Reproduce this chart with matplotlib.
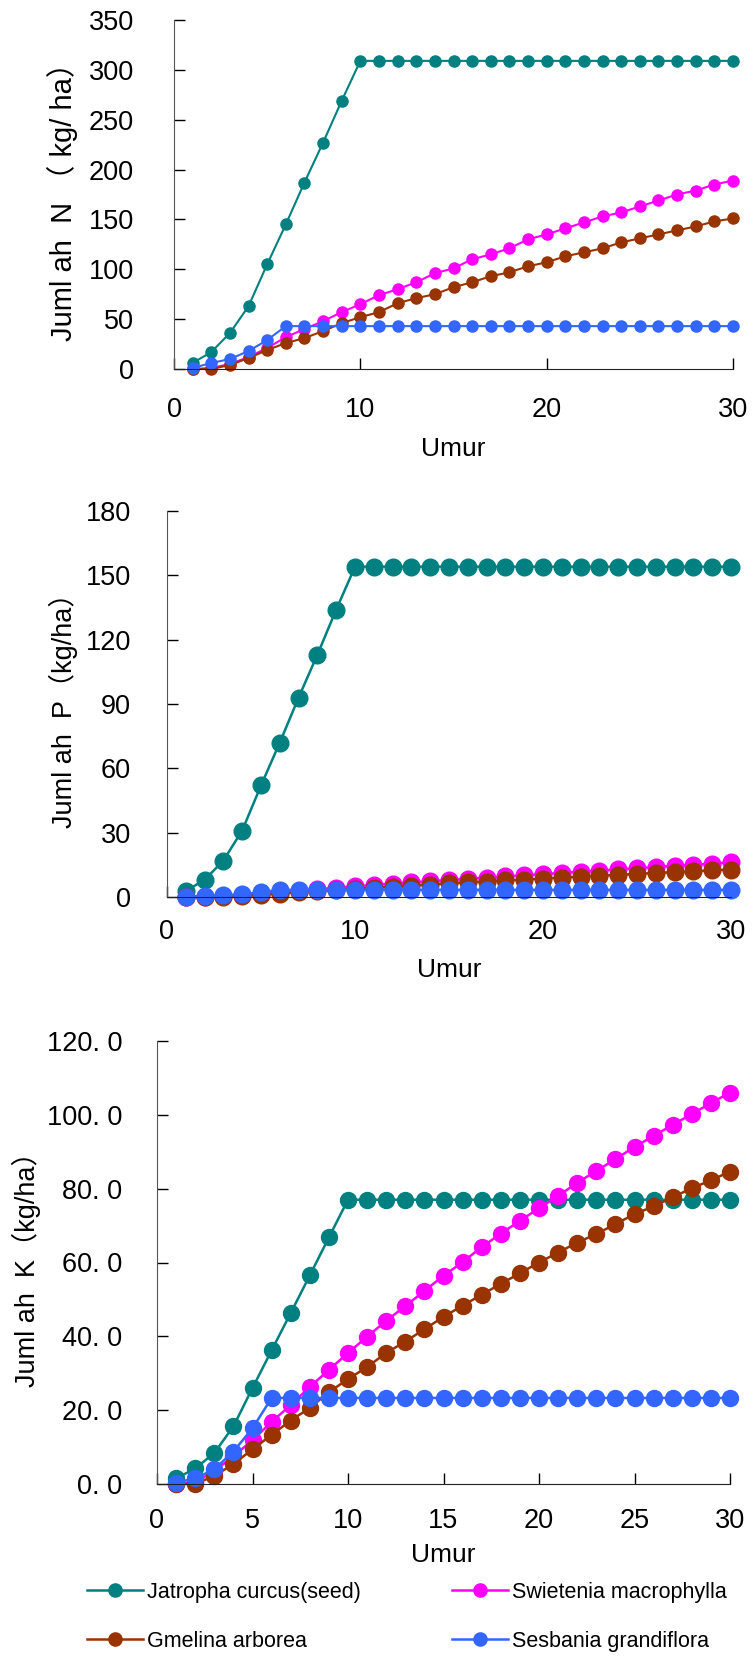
import matplotlib
matplotlib.use("Agg")
import matplotlib.pyplot as plt
from matplotlib.lines import Line2D
from matplotlib.ticker import FuncFormatter

plt.rcParams['font.family'] = ['Liberation Sans', 'Noto Sans CJK JP', 'DejaVu Sans']

# data (umur 1..30)
umur = list(range(1, 31))
species = ["Jatropha curcus(seed)", "Swietenia macrophylla", "Gmelina arborea", "Sesbania grandiflora"]
colors = ["#008080", "#FF00FF", "#993300", "#3366FF"]

n_jatropha = [6, 17, 36, 63, 105, 145, 187, 227, 269, 309] + [309] * 20
n_swietenia = [0, 1, 5, 12, 21, 32, 40, 48, 57, 65, 74, 80, 87, 96, 101, 110, 115, 121, 130, 135,
               141, 147, 153, 157, 163, 169, 175, 179, 185, 189]
n_gmelina = [0, 0, 4, 11, 19, 26, 31, 38, 46, 52, 57, 66, 71, 75, 82, 87, 93, 97, 103, 107,
             113, 117, 121, 127, 131, 135, 139, 143, 148, 151]
n_sesbania = [1, 6, 10, 18, 29, 43] + [43] * 24

p_jatropha = [2.8, 8, 17, 31, 52, 72, 93, 113, 134, 154] + [154] * 20
p_swietenia = [0, 0.1, 0.4, 0.9, 1.5, 2.2, 2.9, 3.6, 4.3, 5.0, 5.6, 6.2, 6.8, 7.4, 7.9, 8.5, 9.0, 9.6,
               10.1, 10.7, 11.2, 11.8, 12.3, 12.9, 13.4, 14.0, 14.5, 15.0, 15.6, 16.1]
p_gmelina = [0, 0, 0.2, 0.5, 1.0, 1.6, 2.2, 2.7, 3.3, 3.8, 4.3, 4.8, 5.3, 5.8, 6.3, 6.8, 7.2, 7.7,
             8.1, 8.6, 9.0, 9.5, 9.9, 10.3, 10.8, 11.2, 11.6, 12.0, 12.4, 12.8]
p_sesbania = [0.2, 0.5, 0.8, 1.3, 2.2, 3.3] + [3.3] * 24

k_jatropha = [1.5, 4.2, 8.4, 15.6, 26.0, 36.2, 46.3, 56.5, 66.8, 77.0] + [77.0] * 20
k_swietenia = [0, 0.5, 3.5, 7.5, 11.9, 16.8, 21.4, 26.3, 30.9, 35.5, 39.9, 44.2, 48.2, 52.3, 56.4,
               60.1, 64.2, 67.8, 71.3, 74.7, 78.0, 81.6, 84.8, 88.0, 91.3, 94.3, 97.3, 100.2, 103.2, 106.0]
k_gmelina = [0, 0, 2.2, 5.4, 9.4, 13.3, 17.2, 20.6, 24.9, 28.4, 31.7, 35.5, 38.6, 41.9, 45.3, 48.3,
             51.3, 54.2, 57.1, 60.0, 62.7, 65.4, 67.7, 70.4, 73.1, 75.2, 77.7, 80.1, 82.3, 84.6]
k_sesbania = [0.4, 1.5, 4.0, 8.8, 15.1, 23.3] + [23.3] * 24

W, H = 755, 1663
fig = plt.figure(figsize=(W / 100, H / 100), dpi=100)


def px_axes(left, top, right, bottom):
    return fig.add_axes([left / W, 1 - bottom / H, (right - left) / W, (bottom - top) / H])


panels = [
    dict(box=(174, 20, 733, 369), data=[n_jatropha, n_swietenia, n_gmelina, n_sesbania],
         ylim=350, ystep=50, xstep=10, ylabel="Juml ah  N （ kg/ ha）", lsize=21, lx=63,
         ms=8, lw=1.5, xpad=20, ypad=29, lpad=10, fmt=lambda v, p: f"{v:.0f}"),
    dict(box=(167, 511, 731, 897), data=[p_jatropha, p_swietenia, p_gmelina, p_sesbania],
         ylim=180, ystep=30, xstep=10, ylabel="Juml ah  P（kg/ha）", lsize=19.5, lx=63,
         ms=12, lw=1.8, xpad=16, ypad=26, lpad=9, fmt=lambda v, p: f"{v:.0f}"),
    dict(box=(157, 1041, 730, 1484), data=[k_jatropha, k_swietenia, k_gmelina, k_sesbania],
         ylim=120, ystep=20, xstep=5, ylabel="Juml ah  K（kg/ha）", lsize=19.5, lx=26,
         ms=11.5, lw=1.8, xpad=17, ypad=25, lpad=7, fmt=lambda v, p: f"{v:.1f}".replace(".", ". ")),
]

for pn in panels:
    left, top, right, bottom = pn["box"]
    ax = px_axes(left, top, right, bottom)
    for vals, c in zip(pn["data"], colors):
        ax.plot(umur, vals, color=c, lw=pn["lw"], marker="o", ms=pn["ms"],
                mfc=c, mec=c, clip_on=False)
    ax.set_xlim(0, 30)
    ax.set_ylim(0, pn["ylim"])
    ax.set_xticks(range(0, 31, pn["xstep"]))
    ax.set_yticks(range(0, pn["ylim"] + 1, pn["ystep"]))
    ax.yaxis.set_major_formatter(FuncFormatter(pn["fmt"]))
    for s in ("top", "right"):
        ax.spines[s].set_visible(False)
    ax.spines["left"].set_color("#555555")
    ax.spines["bottom"].set_color("#222222")
    ax.tick_params(axis="x", direction="in", length=8, width=1, pad=pn["xpad"], labelsize=19.5)
    ax.tick_params(axis="y", direction="in", length=8, width=1, pad=pn["ypad"], labelsize=19.5)
    ax.set_xlabel("Umur", fontsize=19, labelpad=pn["lpad"])
    ax.set_ylabel(pn["ylabel"], fontsize=pn["lsize"], va="center")
    ax.yaxis.set_label_coords((pn["lx"] - left) / (right - left), 0.5)

handles = [Line2D([], [], color=c, lw=1.8, marker="o", ms=9.5, mfc=c, mec=c) for c in colors]
order = [0, 2, 1, 3]
fig.legend([handles[i] for i in order], [species[i] for i in order],
           loc="upper left", bbox_to_anchor=(87 / W, 1 - 1582 / H), ncol=2, frameon=False,
           fontsize=15.5, handlelength=2.6, handletextpad=0.2, columnspacing=4.2,
           labelspacing=1.3, borderpad=0, borderaxespad=0)

fig.savefig("out.png", dpi=100)
